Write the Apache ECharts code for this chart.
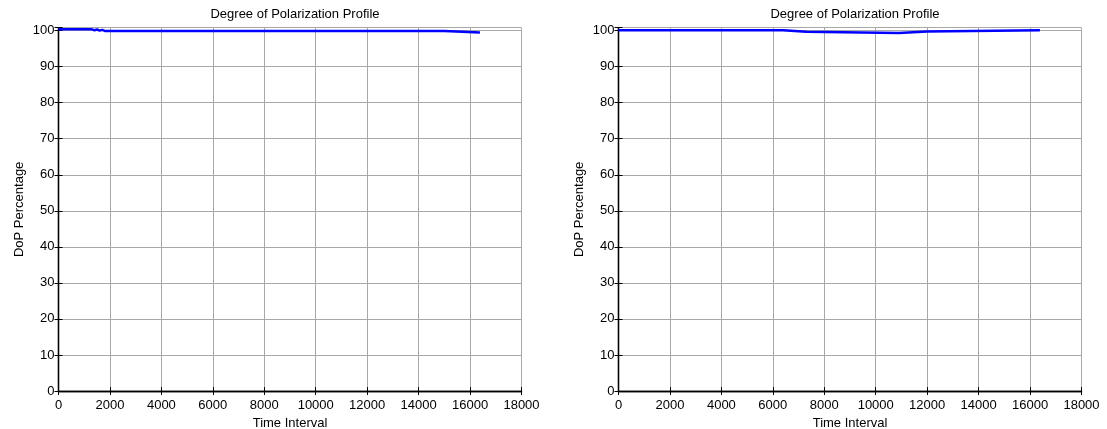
<!DOCTYPE html>
<html>
<head>
<meta charset="utf-8">
<script src="https://cdn.jsdelivr.net/npm/echarts@6/dist/echarts.min.js"></script>
<style>
  html, body { margin: 0; padding: 0; background: #fff; }
  #chart { width: 1107px; height: 429px; }
</style>
</head>
<body>
<div id="chart"></div>
<script>
// Degree of polarization over time, two measurement runs
const titleText = 'Degree of Polarization Profile';
const xAxisName = 'Time Interval';
const yAxisName = 'DoP Percentage';

const leftTime = [0, 1300, 1400, 1500, 1600, 1700, 1800, 15000, 15000, 16384];
const leftDoP  = [100.35, 100.35, 100.1, 100.3, 100.0, 100.2, 99.9, 99.9, 99.5, 99.5];

const rightTime = [0, 6400, 6400, 7300, 7300, 10900, 10900, 12000, 12000, 16384];
const rightDoP  = [100.1, 100.1, 99.7, 99.7, 99.35, 99.35, 99.75, 99.75, 100.1, 100.1];

const xMin = 0, xMax = 18000, xStep = 2000;
const yMin = 0, yMax = 100.8, yStep = 10;

const FONT = 'Liberation Sans, Arial, sans-serif';
const panels = [
  { left: 58.5, right: 585.5, time: leftTime, dop: leftDoP },
  { left: 618.5, right: 25.5, time: rightTime, dop: rightDoP }
];

const grids = [], xAxes = [], yAxes = [], series = [], titles = [];
const yTickLabel = v => (Math.abs(v % yStep) < 1e-9 ? String(v) : '');
const xTickLabel = v => String(v);

panels.forEach((p, i) => {
  grids.push({
    left: p.left, right: p.right, top: 27.7, bottom: 38,
    containLabel: false, outerBoundsMode: 'none'
  });
  const plotW = 1107 - p.left - p.right;
  titles.push({
    text: titleText, left: p.left + plotW / 2, top: 3, textAlign: 'center',
    textStyle: { fontFamily: FONT, fontSize: 13, fontWeight: 'normal', color: '#000' }
  });
  // bottom axis with labels and grid
  xAxes.push({
    type: 'value', gridIndex: i, min: xMin, max: xMax, interval: xStep,
    name: xAxisName, nameLocation: 'middle', nameGap: 24,
    nameTextStyle: { fontFamily: FONT, fontSize: 13, color: '#000' },
    axisLine: { lineStyle: { color: '#000', width: 1.3 } },
    axisTick: { inside: true, length: 4, lineStyle: { color: '#000' } },
    axisLabel: { fontFamily: FONT, fontSize: 13, color: '#000', margin: 8, formatter: xTickLabel },
    splitLine: { show: true, lineStyle: { color: '#a8a8a8', width: 1 } }
  });
  // top border
  xAxes.push({
    type: 'value', gridIndex: i, position: 'top', min: xMin, max: xMax, interval: xStep,
    axisLine: { lineStyle: { color: '#000', width: 1.3 } },
    axisTick: { inside: true, length: 4, lineStyle: { color: '#000' } },
    axisLabel: { show: false }, splitLine: { show: false }
  });
  // left axis with labels and grid
  yAxes.push({
    type: 'value', gridIndex: i, min: yMin, max: yMax, interval: yStep,
    name: yAxisName, nameLocation: 'middle', nameGap: 33, nameRotate: 90,
    nameTextStyle: { fontFamily: FONT, fontSize: 13, color: '#000' },
    axisLine: { show: true, lineStyle: { color: '#000', width: 1.3 } },
    axisTick: { show: true, inside: true, length: 4, lineStyle: { color: '#000' } },
    axisLabel: { fontFamily: FONT, fontSize: 13, color: '#000', margin: 4, formatter: yTickLabel },
    splitLine: { show: true, lineStyle: { color: '#a8a8a8', width: 1 } }
  });
  // right border
  yAxes.push({
    type: 'value', gridIndex: i, position: 'right', min: yMin, max: yMax, interval: yStep,
    axisLine: { show: true, lineStyle: { color: '#000', width: 1.3 } },
    axisTick: { show: true, inside: true, length: 4, lineStyle: { color: '#000' } },
    axisLabel: { show: false }, splitLine: { show: false }
  });
  series.push({
    type: 'line', xAxisIndex: i * 2, yAxisIndex: i * 2,
    data: p.time.map((t, k) => [t, p.dop[k]]),
    showSymbol: false, symbol: 'none', animation: false,
    lineStyle: { color: '#0000ff', width: 2.5 }, z: 1
  });
});

const chart = echarts.init(document.getElementById('chart'));
chart.setOption({
  animation: false,
  backgroundColor: '#fff',
  title: titles,
  grid: grids,
  xAxis: xAxes,
  yAxis: yAxes,
  series: series
});
</script>
</body>
</html>
